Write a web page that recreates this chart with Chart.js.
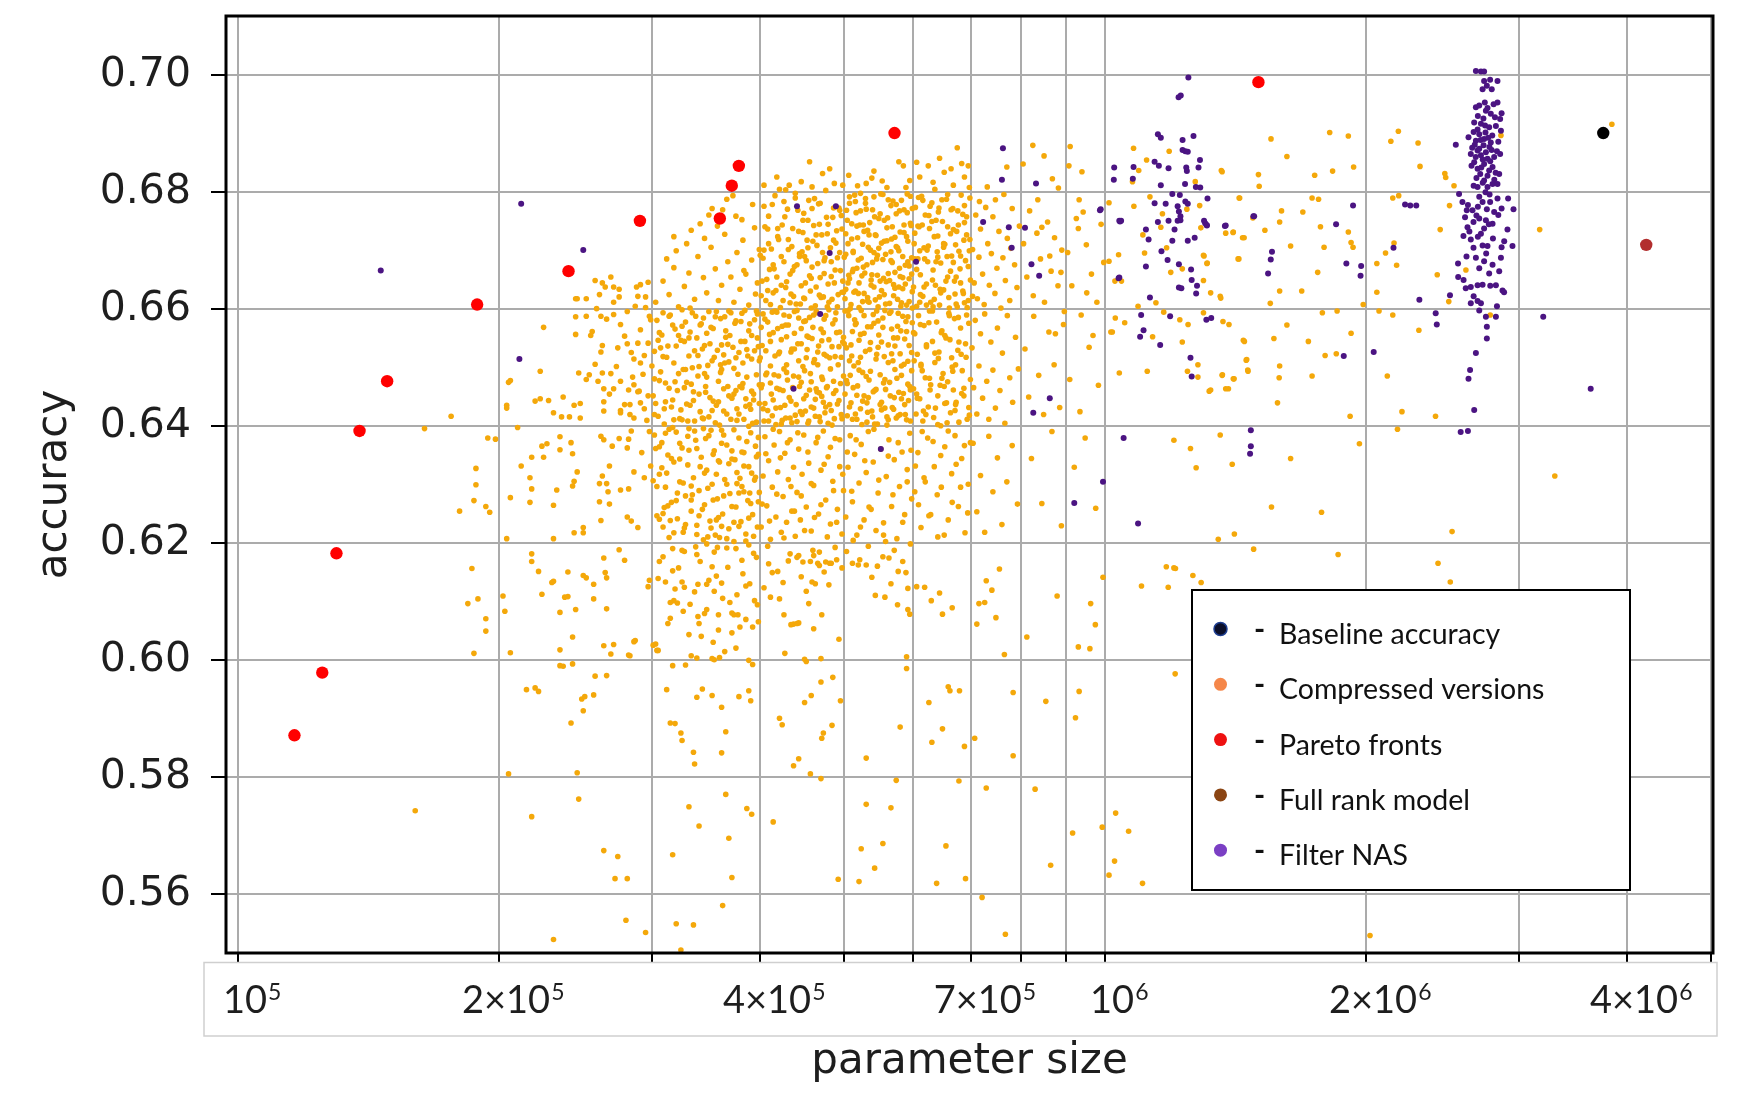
<!DOCTYPE html>
<html>
<head>
  <meta charset="utf-8" />
  <script src="https://cdn.jsdelivr.net/npm/chart.js@4.4.0/dist/chart.umd.min.js"></script>
  <style>
    body { margin:0; background:#fff; overflow:hidden; }
    #chart { display:block; }
  </style>
</head>
<body>
<canvas id="chart" width="1742" height="1105"></canvas>
<script>
// points are [parameters in thousands, accuracy x 10000]
const baselinePts = [[3753,6901]];
const fullRankPts = [[4207,6710]];
const paretoPts = [[116.1,5872],[125.0,5979],[129.8,6183],[138.0,6392],[148.5,6477],[188.6,6608],[240.4,6665],[290.6,6751],[359.3,6755],[370.9,6811],[377.9,6845],[571.4,6901],[1502,6988]];

const nasScattered = [[146,6666],[212,6780],[211,6515],[250,6701],[441,6776],[489,6776],[481,6696],[605,6681],[469,6592],[437,6464],[551,6361],[762,6875],[760,6821],[832,6815],[723,6749],[774,6740],[808,6739],[780,6705],[822,6677],[839,6657],[863,6448],[826,6423],[994,6305],[921,6269],[1091,6234],[986,6769],[1040,6750],[1036,6653],[1023,6821],[1076,6823],[1050,6380],[1097,6553],
  [3200,6587],[3630,6464],[2303,6616],[2040,6527],[1884,6520],[1931,6777],[1846,6745],[1973,6674],[1970,6657],[1897,6678],[2150,6705],[2217,6779],[2248,6777],[2284,6777],[1472,6393],[1469,6353],[1472,6366],[1482,6759],[1557,6698],[1552,6685],[1541,6661],[1374,6742],[1304,6747],[1310,6743]];
const nasClusterA = [[1247,6996],[1215,6962],[1222,6965],[1150,6899],[1159,6893],[1228,6889],[1264,6896],[1228,6872],[1237,6870],[1245,6869],[1286,6855],[1140,6852],[1153,6845],[1183,6841],[1240,6842],[1242,6836],[1281,6842],[1024,6842],[1078,6843],[1159,6812],[1236,6814],[1272,6809],[1287,6808],[1195,6797],[1219,6795],[1312,6789],[1140,6781],[1174,6780],[1212,6776],[1237,6784],[1245,6780],[1216,6767],[1221,6759],[1038,6751],[1043,6751],[1150,6749],[1183,6751],[1212,6751],[1221,6752],[1300,6751],[1309,6744],[1377,6743],[1202,6736],[1114,6736],[1122,6719],[1245,6717],[1268,6722],[1195,6717],[1161,6699],[1180,6684],[1114,6673],[1216,6677],[1256,6668],[1258,6650],[1276,6640],[1216,6637],[1224,6636],[1273,6627],[1126,6620],[1038,6654],[1188,6588],[1100,6590],[1308,6582],[1325,6585],[1107,6564],[1157,6539],[1254,6517],[1258,6485],[988,6771],[1485,6759]];
const nasClusterB = [[2676,7007],[2712,7006],[2735,7006],[2735,6990],[2779,6992],[2834,6990],[2755,6982],[2724,6976],[2791,6976],[2740,6953],[2834,6953],[2676,6945],[2748,6939],[2784,6934],[2865,6935],[2854,6925],[2664,6919],[2712,6917],[2742,6914],[2688,6907],[2772,6911],[2822,6913],[2860,6905],[2700,6899],[2624,6894],[2676,6888],[2735,6891],[2784,6885],[2668,6881],[2731,6880],[2774,6877],[2688,6871],[2748,6868],[2640,6865],[2712,6863],[2760,6857],[2809,6860],[2854,6865],[2664,6851],[2735,6848],[2797,6843],[2688,6840],[2772,6837],[2847,6831],[2707,6831],[2735,6820],[2797,6814],[2834,6814],[2688,6809],[2760,6809],[2537,6881],[2559,6797],[2582,6783],[2612,6769],[2652,6769],[2724,6783],[2779,6783],[2834,6789],[2915,6789],[2957,6771],[2865,6772],[2809,6766],[2659,6749],[2700,6755],[2748,6752],[2735,6738],[2797,6746],[2617,6740],[2589,6725],[2640,6719],[2712,6729],[2910,6736],[2724,6709],[2760,6708],[2865,6706],[2949,6708],[2659,6705],[2676,6688],[2735,6682],[2797,6676],[2847,6665],[2772,6661],[2552,6678],[2553,6655],[2822,6641],[2872,6632],[2884,6629],[2605,6636],[2640,6638],[2688,6641],[2724,6642],[2688,6614],[2640,6610],[2712,6610],[2822,6587],[2748,6587],[2405,6593],[2412,6574],[2498,6624],[2755,6570],[2755,6550],[2676,6525],[2635,6496],[2624,6481],[2664,6428],[2570,6390],[2620,6392],
  [2700,6948],[2760,6944],[2805,6950],[2690,6930],[2730,6926],[2815,6928],[2660,6903],[2745,6902],[2795,6897],[2710,6889],[2765,6893],[2840,6886],[2650,6876],[2700,6874],[2790,6872],[2830,6870],[2675,6860],[2725,6856],[2780,6853],[2645,6845],[2715,6842],[2760,6828],[2820,6833],[2680,6824],[2725,6816],[2810,6821],[2660,6811],[2745,6800],[2775,6796],[2700,6792],[2620,6778],[2690,6775],[2755,6771],[2840,6761],[2680,6760],[2600,6757],[2770,6745],[2630,6733],[2690,6724],[2800,6721],[2885,6716],[2750,6695],[2610,6690],[2700,6670],[2860,6688],[2590,6650],[2780,6640],[2660,6622],[2830,6605],[2700,6598]];

const cmpLow = [[160,5743],[164,6396],[176,6417],[194,6380],[198,6378],[188,6328],[188,6300],[187,6273],[180,6255],[193,6263],[195,6253],[186,6157],[184,6097],[189,6105],[193,6071],[193,6050],[187,6012]];
const cmp200 = [[258,6649],[263,6645],[269,6655],[265,6638],[271,6638],[275,6634],[245,6618],[246,6618],[261,6625],[275,6621],[291,6642],[297,6646],[289,6622],[295,6621],
  [245,6587],[252,6588],[262,6588],[271,6591],[225,6569],[245,6557],[255,6555],[263,6538],[274,6534],[279,6554],[289,6542],[297,6542],[258,6506],[286,6515],[291,6508],[223,6494],[247,6491],[254,6488],[263,6491],[269,6490],[205,6475],[206,6478],[252,6480],[260,6477],[276,6477],[264,6464],[271,6464],[282,6462],[289,6459],[220,6443],[223,6447],[228,6444],[237,6450],[264,6442],[276,6427],[283,6437],[291,6440],[294,6430],[204,6431],[204,6436],[231,6423],[236,6416],[241,6416],[244,6436],[248,6439],[248,6414],[264,6426],[276,6423],[286,6414],[283,6420],
  [210,6398],[224,6366],[227,6370],[235,6382],[235,6360],[242,6372],[243,6353],[218,6347],[212,6332],[225,6347],[217,6312],[218,6293],[206,6278],[233,6291],[231,6265],[244,6306],[243,6298],[246,6322],[262,6383],[264,6377],[270,6366],[275,6379],[282,6378],[281,6363],[268,6332],[263,6315],[261,6302],[266,6302],[267,6288],[276,6291],[282,6293],[261,6271],[268,6267],[262,6239],[281,6245],[284,6238],[289,6227],[286,6322],[294,6312],[244,6218],[250,6227],[250,6218],[231,6208],[204,6208],[217,6270],
  [218,6182],[218,6169],[222,6152],[230,6133],[231,6135],[240,6151],[250,6145],[252,6141],[257,6130],[264,6175],[275,6189],[279,6171],[265,6150],[266,6141],[238,6108],[240,6109],[224,6113],[257,6105],[266,6088],[245,6087],[235,6082],[203,6084],[202,6110],[243,6040],[235,6018],[206,6013],[264,6025],[271,6027],[269,6011],[283,6008],[287,6034],[298,6137],[297,6126],[235,5991],[237,5990],[243,5994],[258,5973],[266,5974],[215,5950],[220,5953],[222,5947],[257,5941],[249,5934],[250,5914],[242,5893],[205,5806],[246,5808],[247,5763],[218,5733],[264,5675],[274,5665],[272,5627],[281,5627],[280,5556],[295,5535],[231,5523],[286,6032],[282,6009],[251,5938],
  [252,6618],[256,6562],[259,6601],[262,6527],[266,6583],[268,6455],[271,6612],[273,6502],[276,6574],[279,6437],[281,6596],[284,6526],[286,6471],[288,6638],[291,6565],[293,6489],[295,6603],[297,6452],[299,6582],[298,6391],
  [281,6541],[284,6392],[287,6605],[290,6460],[292,6355],[294,6521],[296,6410],[298,6588],[299,6332],[285,6484]];
const cmp300 = [[331,5750],[365,5771],[386,5747],[391,5737],[340,5717],[368,5696],[317,5668],[371,5629],[362,5581],[320,5550],[335,5548],[324,5505],
  [315,5893],[319,5892],[324,5876],[325,5863],[335,5843],[336,5823],[361,5842],[365,5878],[312,5950],[338,5937],[343,5951],[352,5940],[361,5920],[378,5938],[388,5948],[390,5931],[317,5991],[328,5992],[392,5993],[338,6004],[354,6001],[301,6026],[304,6017],
  [311,6134],[319,6122],[325,6134],[339,6130],[347,6130],[356,6144],[354,6118],[369,6099],[373,6078],[385,6127],[394,6102],[398,6066],[392,6057],[318,6102],[315,6099],[326,6084],[332,6096],[339,6075],[340,6063],[347,6087],[358,6078],[371,6081],[377,6078],[315,6072],[303,6028],[305,6017],[342,6041],[352,6003],[358,6052],[375,6021],[388,6000],[359,6005],
  [317,6191],[325,6188],[337,6194],[347,6199],[354,6185],[375,6191],[388,6197],
  [305,6140],[309,6177],[313,6063],[317,6153],[321,6098],[327,6186],[331,6044],[336,6117],[341,6169],[345,6080],[349,6137],[353,6031],[357,6193],[362,6106],[367,6159],[371,6047],[376,6112],[381,6171],[385,6070],[389,6131],[393,6183],[397,6095],[333,6008],[364,6015],[379,6057],
  [306,6169],[322,6158],[338,6181],[352,6160],[366,6192],[382,6148],[396,6176],[327,6125],[361,6132],
  [302,6385],[304,6247],[306,6318],[308,6372],[309,6228],[311,6296],[313,6351],[314,6210],[316,6270],[318,6339],[320,6390],[321,6242],[323,6305],[325,6363],[326,6219],[328,6281],[330,6334],[331,6396],[333,6255],[335,6312],[337,6376],[338,6231],[340,6290],[342,6347],[344,6206],[345,6266],[347,6325],[349,6384],[350,6238],[352,6301],[354,6358],[355,6214],[357,6276],[359,6339],[361,6393],[362,6250],[364,6309],[366,6368],[368,6225],[369,6285],[371,6344],[373,6203],[375,6262],[376,6321],[378,6380],[380,6237],[381,6297],[383,6355],[385,6216],[387,6273],[388,6331],[390,6389],[392,6249],[394,6308],[395,6366],[397,6228],[399,6287],[310,6261],[334,6283],[356,6240],[379,6311],[398,6352],
  [301,6307],[303,6362],[306,6241],[308,6329],[311,6388],[313,6264],[316,6345],[318,6218],[321,6286],[323,6371],[326,6303],[328,6232],[331,6359],[333,6274],[336,6392],[338,6215],[341,6331],[343,6258],[346,6379],[348,6294],[351,6226],[353,6352],[356,6318],[358,6244],[361,6371],[363,6281],[366,6208],[368,6336],[371,6263],[373,6394],[376,6302],[378,6229],[381,6356],[383,6288],[386,6374],[388,6243],[391,6320],[393,6212],[396,6348],[398,6271],[314,6395],[344,6396],[359,6210],[374,6343],[389,6286],
  [301,6452],[302,6528],[304,6581],[305,6417],[307,6493],[308,6556],[310,6404],[311,6474],[313,6537],[315,6590],[316,6433],[318,6508],[319,6566],[321,6461],[323,6413],[324,6547],[326,6497],[328,6578],[329,6438],[331,6520],[333,6472],[334,6594],[336,6409],[338,6551],[339,6486],[341,6425],[343,6532],[344,6585],[346,6458],[348,6504],[349,6416],[351,6569],[353,6443],[354,6518],[356,6596],[358,6477],[359,6402],[361,6539],[363,6464],[364,6587],[366,6421],[368,6510],[369,6555],[371,6448],[373,6499],[374,6576],[376,6430],[378,6526],[379,6468],[381,6593],[383,6412],[384,6545],[386,6484],[388,6563],[389,6437],[391,6515],[393,6455],[394,6582],[396,6407],[398,6536],[399,6471],[302,6481],[309,6519],[317,6445],[325,6571],[332,6436],[340,6502],[347,6559],[352,6427],[360,6492],[367,6540],[375,6461],[382,6508],[390,6429],[397,6551],[306,6560],[327,6466],[345,6490],[363,6522],[385,6447],
  [300,6503],[303,6439],[305,6547],[306,6478],[309,6594],[310,6430],[312,6518],[314,6465],[317,6573],[318,6411],[320,6537],[322,6490],[324,6428],[325,6599],[327,6545],[329,6475],[330,6409],[332,6561],[334,6500],[335,6444],[337,6588],[339,6521],[340,6455],[342,6575],[344,6413],[345,6538],[347,6484],[349,6596],[350,6449],[352,6512],[353,6567],[355,6406],[357,6530],[358,6442],[360,6584],[361,6497],[363,6426],[365,6552],[367,6468],[368,6597],[370,6412],[372,6535],[373,6455],[375,6580],[377,6489],[378,6421],[380,6545],[382,6473],[384,6598],[385,6434],[387,6520],[389,6575],[391,6460],[392,6405],[394,6529],[396,6488],[397,6592],[399,6439],[331,6551],[364,6508],
  [302,6420],[304,6297],[306,6365],[307,6534],[309,6251],[311,6442],[312,6320],[314,6588],[315,6239],[317,6398],[319,6476],[320,6273],[322,6555],[323,6344],[325,6411],[327,6226],[328,6497],[330,6383],[332,6602],[333,6298],[335,6459],[336,6529],[338,6362],[340,6247],[341,6573],[343,6414],[345,6320],[346,6468],[348,6211],[350,6541],[351,6393],[353,6274],[355,6587],[356,6436],[358,6341],[360,6505],[361,6229],[363,6385],[365,6563],[366,6301],[368,6452],[370,6594],[371,6358],[373,6236],[375,6517],[376,6410],[378,6286],[380,6579],[381,6466],[383,6332],[385,6204],[386,6531],[388,6400],[390,6268],[391,6555],[393,6445],[395,6313],[396,6597],[398,6381],[399,6512],
  [303,6612],[309,6648],[314,6625],[318,6671],[322,6604],[327,6639],[331,6662],[336,6617],[339,6690],[344,6654],[347,6628],[351,6706],[355,6669],[358,6615],[361,6641],[364,6728],[367,6681],[370,6655],[373,6612],[376,6697],[379,6634],[382,6718],[385,6660],[388,6607],[391,6684],[394,6739],[397,6645],[399,6702],[345,6721],[333,6735],[312,6686],[320,6700],[357,6742],[383,6666],[395,6626],[352,6772],[366,6788],[372,6794],[375,6759],[341,6746],
  [318,6724],[329,6712],[349,6761],[362,6770],[381,6753],[392,6779]];
const cmp400 = [[414,5724],[421,6105],[437,6062],[443,6064],[427,6012],[452,5998],[470,6003],[470,5963],[485,5971],[458,5940],[450,5928],[495,5931],[421,5901],[424,5890],[484,5889],[473,5876],[471,5867],[443,5832],[437,5820],[457,5806],[470,5798],[492,5626],[459,6134],[463,6131],[409,6165],[413,6150],[411,6108],[425,6133],[426,6078],[434,6061],[441,6063],[471,6078],[466,6166],[481,6166],[490,6172],[455,6097],[461,6054],[450,6002],[493,6036],
  [433,6182],[441,6176],[448,6168],[457,6169],[461,6179],[468,6162],[476,6168],[483,6166],[468,6185],[443,6179],
  [408,6195],[419,6152],[431,6170],[446,6143],[460,6188],[474,6151],[488,6193],[497,6158],[404,6124],[452,6118],[480,6129],
  [401,6228],[403,6315],[405,6382],[407,6264],[409,6341],[411,6207],[413,6296],[415,6368],[417,6245],[419,6322],[421,6391],[423,6219],[425,6280],[427,6354],[429,6236],[431,6309],[433,6377],[435,6255],[437,6330],[439,6212],[441,6287],[443,6361],[445,6240],[447,6318],[449,6385],[452,6262],[455,6337],[458,6221],[461,6299],[464,6372],[467,6250],[470,6325],[473,6392],[476,6274],[479,6348],[482,6233],[485,6306],[488,6379],[491,6258],[494,6331],[497,6216],[499,6290],
  [402,6267],[406,6353],[410,6238],[414,6395],[418,6284],[422,6346],[426,6209],[430,6372],[434,6297],[438,6255],[442,6389],[446,6281],[450,6222],[454,6356],[458,6302],[462,6244],[466,6381],[470,6266],[474,6335],[478,6211],[482,6364],[486,6290],[490,6236],[494,6377],[498,6318],
  [401,6466],[402,6538],[404,6409],[405,6583],[407,6491],[408,6427],[410,6557],[411,6474],[413,6595],[414,6445],[416,6520],[417,6403],[419,6567],[420,6486],[422,6432],[423,6548],[425,6461],[426,6590],[428,6414],[429,6505],[431,6573],[432,6449],[434,6527],[435,6406],[437,6486],[438,6559],[440,6437],[441,6598],[443,6512],[444,6468],[446,6541],[447,6420],[449,6579],[450,6495],[452,6453],[453,6531],[455,6409],[456,6586],[458,6476],[459,6550],[461,6431],[462,6514],[464,6597],[465,6459],[467,6537],[468,6416],[470,6566],[471,6484],[473,6441],[474,6523],[476,6589],[477,6466],[479,6405],[480,6548],[482,6498],[483,6427],[485,6575],[486,6456],[488,6519],[489,6594],[491,6438],[492,6505],[494,6561],[495,6473],[497,6413],[498,6544],[499,6486],[464,6464],
  [400,6517],[402,6471],[403,6592],[405,6439],[406,6529],[408,6578],[409,6409],[411,6503],[412,6455],[414,6560],[415,6488],[417,6431],[418,6595],[420,6524],[421,6463],[423,6404],[424,6571],[426,6498],[427,6436],[429,6553],[430,6479],[432,6588],[433,6414],[435,6532],[436,6466],[438,6596],[439,6419],[442,6541],[443,6484],[445,6425],[446,6567],[448,6502],[449,6447],[451,6580],[452,6517],[454,6405],[455,6552],[457,6490],[458,6433],[460,6569],[461,6509],[463,6446],[465,6594],[466,6527],[468,6457],[469,6408],[471,6546],[472,6480],[474,6583],[475,6423],[477,6520],[478,6468],[480,6599],[481,6437],[484,6536],[486,6477],[487,6413],[490,6560],[493,6444],[496,6518],
  [401,6569],[403,6430],[404,6701],[406,6488],[408,6632],[409,6759],[411,6545],[413,6418],[414,6676],[416,6597],[418,6465],[419,6738],[421,6527],[423,6641],[424,6410],[426,6784],[428,6573],[429,6492],[431,6719],[433,6611],[434,6443],[436,6666],[438,6532],[439,6798],[441,6408],[443,6585],[444,6690],[446,6475],[448,6752],[449,6619],[451,6426],[453,6554],[454,6705],[456,6462],[458,6653],[459,6772],[461,6590],[463,6417],[464,6727],[466,6505],[468,6624],[469,6781],[471,6451],[473,6560],[474,6683],[476,6433],[478,6604],[479,6745],[481,6517],[483,6656],[484,6402],[486,6718],[488,6582],[489,6461],[491,6688],[493,6536],[494,6769],[496,6420],[497,6629],[499,6552],
  [401,6623],[403,6687],[405,6741],[407,6651],[409,6712],[411,6608],[413,6779],[415,6669],[417,6632],[419,6724],[421,6805],[423,6690],[425,6615],[427,6758],[429,6647],[431,6702],[432,6812],[434,6626],[436,6738],[438,6673],[440,6609],[442,6769],[444,6695],[446,6640],[448,6731],[450,6618],[452,6683],[454,6752],[456,6657],[458,6602],[460,6716],[462,6789],[464,6638],[466,6678],[468,6745],[470,6620],[472,6697],[474,6661],[476,6803],[478,6729],[480,6612],[481,6840],[483,6681],[485,6757],[487,6645],[489,6713],[491,6604],[493,6773],[495,6666],[497,6737],[498,6812],[499,6629],
  [400,6692],[402,6648],[404,6776],[406,6615],[408,6737],[410,6668],[412,6703],[414,6628],[416,6794],[418,6655],[420,6719],[422,6603],[424,6744],[426,6681],[428,6637],[430,6771],[433,6660],[435,6707],[437,6622],[439,6790],[441,6676],[443,6733],[445,6609],[447,6698],[449,6764],[451,6645],[453,6718],[455,6786],[457,6631],[459,6672],[461,6743],[463,6606],[465,6709],[467,6780],[469,6654],[471,6727],[473,6621],[475,6688],[477,6757],[479,6643],[482,6705],[484,6617],[486,6773],[488,6667],[490,6734],[492,6625],[494,6697],[496,6760],[498,6648],[450,6690],
  [404,6812],[418,6826],[428,6804],[446,6818],[459,6809],[472,6832],[487,6815],[456,6852]];
const cmp500 = [[530,5833],[530,5754],[566,5748],[523,5678],[554,5687],[542,5645],[574,5795],[577,6152],[592,6123],[592,6087],[595,6079],[590,6006],[590,5986],[580,5886],[543,6111],[557,6108],[576,6095],[511,6166],[519,6163],[530,6163],[554,6177],[563,6175],[520,5622],
  [530,6815],[538,6824],[560,6808],[585,6845],[595,6820],[506,6829],[518,6811],[541,6836],[553,6819],[578,6852],[589,6808],
  [503,6186],[512,6205],[521,6172],[533,6195],[546,6161],[558,6203],[571,6188],[584,6169],[596,6199],[538,6142],[566,6131],[589,6150],
  [502,6245],[505,6330],[508,6384],[511,6271],[514,6352],[517,6214],[520,6303],[523,6369],[527,6240],[530,6321],[533,6391],[537,6258],[540,6339],[544,6222],[547,6286],[551,6361],[555,6235],[559,6314],[563,6377],[567,6263],[571,6343],[575,6208],[579,6297],[583,6356],[587,6249],[591,6326],[595,6388],[598,6276],
  [504,6356],[510,6289],[516,6377],[522,6228],[528,6341],[534,6262],[541,6395],[548,6308],[555,6214],[562,6349],[569,6283],[577,6372],[584,6236],[591,6305],[597,6359],
  [501,6455],[503,6534],[504,6418],[506,6589],[508,6487],[509,6440],[511,6562],[513,6503],[515,6421],[516,6576],[518,6469],[520,6547],[522,6430],[523,6598],[525,6492],[527,6452],[529,6528],[531,6407],[532,6570],[534,6479],[536,6543],[538,6426],[540,6591],[542,6461],[544,6515],[546,6404],[548,6556],[550,6488],[552,6441],[554,6585],[556,6519],[558,6463],[560,6402],[562,6539],[564,6475],[566,6596],[568,6432],[570,6551],[572,6497],[574,6414],[576,6571],[578,6458],[580,6524],[582,6447],[584,6588],[586,6506],[588,6420],[590,6562],[592,6472],[594,6538],[596,6409],[598,6495],[599,6577],[507,6512],[519,6509],[533,6449],[545,6597],[557,6431],[569,6512],[581,6563],[593,6444],
  [500,6541],[503,6478],[505,6597],[507,6433],[510,6520],[512,6466],[515,6574],[517,6412],[520,6496],[522,6557],[525,6443],[527,6589],[530,6485],[532,6424],[535,6531],[537,6570],[540,6459],[542,6404],[545,6523],[547,6580],[550,6437],[552,6544],[555,6474],[557,6598],[560,6416],[562,6509],[565,6452],[567,6566],[570,6429],[572,6537],[575,6482],[577,6593],[580,6420],[582,6503],[585,6456],[587,6549],[590,6411],[592,6587],[595,6468],[598,6526],
  [501,6597],[502,6729],[504,6473],[506,6658],[507,6792],[509,6539],[511,6412],[512,6699],[514,6582],[516,6765],[517,6453],[519,6627],[521,6744],[522,6518],[524,6403],[526,6672],[527,6559],[529,6781],[531,6440],[532,6614],[534,6727],[536,6494],[537,6650],[539,6416],[541,6576],[542,6758],[544,6463],[546,6692],[547,6535],[549,6621],[551,6797],[552,6428],[554,6569],[556,6716],[557,6480],[559,6647],[561,6756],[562,6411],[564,6593],[566,6683],[567,6524],[569,6785],[571,6449],[572,6636],[574,6707],[576,6551],[577,6418],[579,6768],[581,6605],[582,6487],[584,6654],[586,6731],[587,6437],[589,6579],[591,6797],[592,6511],[594,6674],[596,6462],[597,6743],[599,6602],
  [501,6618],[502,6694],[504,6752],[505,6645],[507,6781],[509,6608],[510,6720],[512,6668],[514,6795],[515,6631],[517,6742],[519,6684],[520,6603],[522,6768],[524,6657],[525,6711],[527,6627],[529,6789],[531,6676],[532,6735],[534,6612],[536,6701],[538,6659],[539,6770],[541,6638],[543,6727],[545,6686],[547,6604],[548,6755],[550,6648],[552,6713],[554,6796],[556,6625],[558,6694],[560,6739],[562,6661],[564,6610],[566,6777],[568,6680],[570,6642],[572,6723],[574,6763],[576,6617],[578,6700],[580,6656],[582,6786],[584,6635],[586,6744],[588,6675],[590,6607],[592,6716],[594,6652],[596,6793],[598,6688],[599,6630],[511,6664],[526,6744],[541,6697],[555,6653],[567,6720],[579,6670],[591,6765],
  [500,6689],[502,6634],[503,6769],[505,6712],[507,6652],[508,6601],[510,6746],[512,6697],[513,6629],[515,6784],[517,6670],[518,6722],[520,6645],[522,6798],[523,6687],[525,6613],[527,6733],[528,6662],[530,6771],[532,6620],[533,6706],[535,6748],[537,6641],[539,6680],[541,6792],[543,6616],[544,6726],[546,6658],[548,6704],[550,6763],[552,6632],[554,6685],[556,6752],[558,6609],[560,6717],[562,6787],[564,6649],[566,6698],[568,6741],[570,6623],[572,6663],[574,6779],[576,6705],[578,6638],[580,6732],[582,6611],[584,6690],[586,6770],[588,6643],[590,6724],[592,6681],[594,6613],[596,6747],[598,6660],[599,6772]];
const cmp600 = [[606,6851],[625,6845],[644,6858],[664,6840],[675,6876],[636,6805],[688,6826],[695,6845],
  [611,6826],[633,6817],[652,6834],[668,6812],[683,6849],[697,6808],
  [606,6126],[619,6125],[630,6102],[644,6115],[649,6079],[666,6090],[649,5883],[631,5860],[626,5928],[659,5955],[662,5948],[679,5948],[688,5853],[678,5794],[639,5619],[690,5627],[655,5683],
  [603,6288],[608,6355],[613,6227],[618,6312],[624,6380],[629,6249],[635,6331],[641,6211],[647,6296],[653,6365],[659,6240],[665,6319],[671,6384],[677,6263],[683,6345],[689,6218],[695,6301],[699,6372],
  [604,6332],[609,6266],[615,6391],[620,6305],[626,6247],[633,6374],[640,6283],[646,6350],[652,6214],[659,6392],[666,6270],[673,6335],[681,6296],[688,6367],[694,6252],
  [601,6464],[603,6558],[605,6421],[607,6523],[609,6589],[611,6447],[613,6506],[616,6409],[618,6572],[620,6483],[622,6536],[625,6433],[627,6597],[629,6471],[632,6545],[634,6415],[636,6509],[639,6578],[641,6452],[643,6527],[646,6401],[648,6563],[650,6490],[653,6439],[655,6551],[658,6476],[660,6593],[663,6423],[665,6517],[668,6462],[670,6584],[673,6441],[676,6530],[678,6407],[681,6568],[684,6495],[687,6452],[690,6541],[693,6412],[696,6576],[699,6480],[615,6495],[645,6470],[672,6505],
  [602,6512],[607,6448],[612,6574],[617,6426],[622,6539],[627,6482],[632,6597],[637,6431],[642,6516],[647,6560],[652,6468],[657,6406],[662,6548],[667,6494],[672,6437],[677,6586],[682,6523],[687,6465],[692,6590],[697,6419],
  [601,6560],[603,6686],[606,6455],[608,6742],[611,6612],[613,6503],[616,6786],[618,6638],[621,6420],[623,6701],[626,6577],[628,6462],[631,6750],[633,6604],[636,6525],[638,6681],[641,6403],[643,6773],[646,6628],[648,6482],[651,6706],[653,6555],[656,6440],[658,6796],[661,6589],[663,6665],[666,6501],[668,6736],[671,6427],[673,6609],[676,6768],[678,6544],[681,6691],[683,6456],[686,6627],[688,6748],[691,6518],[693,6603],[696,6432],[698,6719],
  [601,6638],[602,6712],[604,6774],[606,6605],[608,6686],[610,6741],[612,6659],[614,6793],[616,6622],[618,6705],[620,6761],[622,6643],[624,6681],[627,6738],[629,6612],[631,6782],[633,6667],[635,6724],[637,6641],[640,6698],[642,6766],[644,6607],[646,6679],[649,6750],[651,6633],[653,6711],[656,6788],[658,6655],[660,6620],[663,6729],[665,6691],[667,6772],[670,6648],[672,6710],[675,6604],[677,6744],[680,6669],[682,6795],[685,6631],[687,6718],[690,6683],[692,6758],[695,6615],[697,6700],[699,6650],[611,6700],[626,6760],[641,6725],[657,6690],[673,6655],[688,6777],
  [603,6730],[606,6668],[609,6791],[612,6625],[615,6744],[619,6686],[622,6607],[625,6708],[628,6776],[632,6650],[635,6617],[638,6752],[641,6689],[645,6634],[648,6787],[651,6712],[655,6648],[658,6741],[661,6602],[664,6770],[668,6680],[671,6626],[674,6733],[678,6699],[681,6645],[685,6762],[688,6611],[692,6727],[695,6673],[698,6790]];
const cmp700 = [[731,6809],[764,6796],[770,6843],[836,6787],[869,6823],[883,6807],[911,6878],[908,6845],[940,6835],[933,6787],[943,6766],[931,6738],[845,6740],[863,6691],[889,6663],[952,6628],[897,6596],[876,6558],[968,6555],
  [703,6702],[706,6645],[709,6761],[712,6618],[715,6689],[718,6737],[722,6660],[725,6608],[728,6774],[732,6712],[735,6641],[739,6695],[742,6758],[746,6627],[750,6670],[754,6733],[758,6602],[762,6688],[767,6649],[771,6721],[776,6615],[781,6772],[786,6676],[791,6637],[796,6742],[703,6622],[747,6787],[778,6704],[716,6784],
  [702,6534],[705,6466],[708,6581],[711,6421],[715,6503],[718,6558],[722,6448],[726,6592],[730,6477],[734,6412],[738,6544],[742,6496],[747,6431],[751,6568],[756,6461],[761,6525],[766,6405],[771,6589],[776,6483],[782,6441],[788,6552],[794,6498],
  [704,6371],[711,6254],[718,6316],[726,6219],[734,6383],[742,6288],[751,6346],[760,6232],[770,6305],[781,6367],[792,6267],
  [711,6062],[715,6097],[726,6099],[748,6073],[729,6136],[755,6156],[783,5945],[783,5837],[707,5867],[729,5782],[721,5595],[767,5532],[740,6120],[765,6010],
  [805,6712],[812,6655],[818,6768],[826,6623],[834,6730],[842,6686],[851,6612],[858,6749],[866,6665],[874,6722],[882,6640],[891,6701],[804,6848],[850,6862],[825,6880],
  [808,6532],[816,6450],[827,6588],[838,6487],[849,6420],[861,6561],[873,6505],[886,6432],[895,6574],[822,6345],[845,6268],[868,6391],[890,6230],
  [865,5650],[812,6040],[854,5930],[830,5780],[880,6110],
  [917,5705],[992,5715],[933,5947],[924,5902],[931,6023],[960,6020],[962,6097],[974,6061],[994,6142],
  [905,6697],[915,6640],[926,6755],[938,6590],[951,6710],[964,6660],[978,6612],[989,6745],[996,6680],[910,6480],[935,6425],[958,6535],[982,6470],[921,6330],[948,6380],[975,6260]];
const cmp1M = [[1078,6875],[1185,6870],[1116,6855],[1093,6837],[1075,6818],[1270,6818],[1361,6837],[1502,6830],[1505,6810],[1010,6782],[1079,6776],[1126,6792],[1164,6763],[1285,6777],[1427,6790],[1242,6771],[1159,6740],[1105,6727],[1289,6739],[1377,6730],[1404,6731],[1446,6722],[1036,6693],[1110,6696],[1177,6705],[1300,6691],[1311,6679],[1423,6686],[1010,6682],[1026,6648],[1044,6648],[1190,6663],[1227,6669],[1298,6649],[1323,6628],[1359,6619],[1144,6611],[1091,6605],[1027,6585],[1053,6577],[1168,6595],[1219,6582],[1246,6574],[1298,6594],[1367,6579],[1389,6574],[1019,6561],[1134,6553],[1227,6544],[1443,6547],[1456,6514],[1279,6505],[1244,6494],[1279,6484],[1038,6491],[1118,6494],[1365,6488],[1408,6481],[1460,6496],[1323,6462],[1387,6464],[1015,6561],
  [1553,6891],[1620,6861],[1815,6902],[1907,6896],[1364,6835],[1744,6829],[1829,6836],[1934,6843],[1429,6790],[1732,6790],[1762,6788],[1480,6756],[1589,6749],[1597,6768],[1690,6766],[1528,6735],[1771,6741],[1907,6732],[1405,6732],[1440,6722],[1636,6708],[1788,6706],[1921,6714],[1931,6706],[1298,6692],[1310,6678],[1426,6686],[1589,6631],[1685,6631],[1758,6663],[1984,6608],[1550,6610],[1357,6622],[1780,6594],[1851,6597],[1565,6550],[1620,6573],[1715,6545],[1793,6521],[1847,6524],[1921,6559],[1447,6545],[1454,6513],[1461,6494],[1589,6503],[1587,6483],[1732,6486],[1364,6487],[1405,6481],[1377,6464],[1318,6460],[1580,6440],[1916,6417],[1964,6370],[1636,6345],[1401,6335],[1273,6329],[1357,6385],[1254,6362],[1200,6376],[1555,6262],[1776,6253],[1350,6207],[1409,6216],[1483,6190],[1856,6181],
  [1101,6127],[1182,6125],[1176,6160],[1200,6158],[1204,5977],[1028,5739],[1064,5708],[1025,5657],[1010,5633],[1104,5619],[1205,6157],[1262,6145],[1290,6133]];
const cmp2M = [[2135,6887],[2178,6904],[2295,6884],[2307,6844],[2464,6832],[2470,6825],[2525,6811],[2146,6790],[2180,6794],[2105,6696],[2153,6713],[2057,6678],[2168,6675],[2434,6736],[2495,6777],[2415,6659],[2606,6667],[2057,6629],[2069,6597],[2146,6590],[2300,6564],[2115,6486],[2199,6425],[2404,6417],[2173,6395],[2512,6220],[2420,6166],[2500,6134],[2020,5530],[3300,6315],[3170,6736],[3840,6916],[2490,6613],[2860,6897],[2780,6590]];

const xGridVals = [1e5,2e5,3e5,4e5,5e5,6e5,7e5,8e5,9e5,1e6,2e6,3e6,4e6,5e6];
const xLabelVals = [1e5,2e5,4e5,7e5,1e6,2e6,4e6];
const xLabelMant = ['','2×','4×','7×','','2×','4×'];
const xLabelExp = ['5','5','5','5','6','6','6'];
const yTickVals = [0.56,0.58,0.60,0.62,0.64,0.66,0.68,0.70];

const legendLabels = ['Baseline accuracy','Compressed versions','Pareto fronts','Full rank model','Filter NAS'];
const legendColors = ['#0b0f2a','#F5874A','#EE1111','#8B4513','#7B3FC4'];

const toPts = arr => arr.map(p => ({ x: p[0] * 1000, y: p[1] / 10000 }));

const overlay = {
  id: 'overlay',
  afterDraw(chart) {
    const ctx = chart.ctx, a = chart.chartArea, xs = chart.scales.x;
    ctx.save();
    // frame
    ctx.strokeStyle = '#000'; ctx.lineWidth = 3;
    ctx.strokeRect(a.left, a.top, a.right - a.left, a.bottom - a.top);

    // pasted box round the x tick labels
    ctx.strokeStyle = '#cfcfcf'; ctx.lineWidth = 1.5;
    ctx.strokeRect(a.left - 22, a.bottom + 9.5, a.right - a.left + 26, 73.5);

    ctx.fillStyle = '#1e1e1e'; ctx.textAlign = 'left'; ctx.textBaseline = 'alphabetic';
    xLabelVals.forEach((v, i) => {
      const base = xLabelMant[i] + '10';
      ctx.font = '38px Lato'; const bw = ctx.measureText(base).width;
      ctx.font = '23px Lato'; const ew = ctx.measureText(xLabelExp[i]).width;
      const x0 = xs.getPixelForValue(v) + 14 - (bw + ew + 1) / 2;
      ctx.font = '38px Lato'; ctx.fillText(base, x0, a.bottom + 60);
      ctx.font = '23px Lato'; ctx.fillText(xLabelExp[i], x0 + bw + 1, a.bottom + 47);
    });

    // axis titles
    ctx.font = '42px "DejaVu Sans"'; ctx.textAlign = 'center';
    ctx.fillText('parameter size', (a.left + a.right) / 2, 1073);
    ctx.save();
    ctx.translate(66, (a.top + a.bottom) / 2);
    ctx.rotate(-Math.PI / 2);
    ctx.fillText('accuracy', 0, 0);
    ctx.restore();

    // legend box
    const lx = 1192, ly = 590, lw = 438, lh = 300;
    ctx.fillStyle = '#fff'; ctx.fillRect(lx, ly, lw, lh);
    ctx.strokeStyle = '#000'; ctx.lineWidth = 2; ctx.strokeRect(lx, ly, lw, lh);
    ctx.textAlign = 'left';
    legendLabels.forEach((lab, i) => {
      const yb = 644 + i * 55.3;
      ctx.beginPath(); ctx.arc(1220.5, yb - 15, 6.5, 0, Math.PI * 2);
      ctx.fillStyle = legendColors[i]; ctx.fill();
      if (i === 0) { ctx.strokeStyle = '#1d3d8f'; ctx.lineWidth = 1.5; ctx.stroke(); }
      ctx.fillStyle = '#111';
      ctx.font = 'bold 30px Lato'; ctx.fillText('-', 1254, yb - 4);
      ctx.font = '28.5px Lato'; ctx.fillText(lab, 1279, yb);
    });
    ctx.restore();
  }
};

const pointDs = (label, pts, color, r) => ({
  label, data: toPts(pts), backgroundColor: color, pointBackgroundColor: color,
  pointRadius: r, pointHoverRadius: r, pointBorderWidth: 0, borderWidth: 0, showLine: false
});

new Chart(document.getElementById('chart'), {
  type: 'scatter',
  data: {
    datasets: [
      pointDs('Baseline accuracy', baselinePts, '#000000', 6.2),
      pointDs('Full rank model', fullRankPts, '#B22E2E', 6.2),
      pointDs('Pareto fronts', paretoPts, '#FF0000', 6.2),
      pointDs('Filter NAS', [...nasScattered, ...nasClusterA, ...nasClusterB], '#4B1482', 3.0),
      pointDs('Compressed versions', [...cmpLow, ...cmp200, ...cmp300, ...cmp400, ...cmp500, ...cmp600, ...cmp700, ...cmp1M, ...cmp2M], '#F4A80A', 2.8)
    ]
  },
  options: {
    responsive: false,
    devicePixelRatio: 1,
    animation: false,
    layout: { padding: { left: 0, top: 16, right: 29, bottom: 0 } },
    plugins: { legend: { display: false }, tooltip: { enabled: false } },
    scales: {
      x: {
        type: 'logarithmic', min: 96800, max: 5023000,
        afterBuildTicks: s => { s.ticks = xGridVals.map(v => ({ value: v })); },
        afterFit: s => { s.height = 152; s.paddingLeft = 0; s.paddingRight = 0; },
        grid: { color: '#ababab', lineWidth: 2, tickColor: '#000', tickLength: 9, tickWidth: 2 },
        border: { display: false },
        ticks: { display: false }
      },
      y: {
        type: 'linear', min: 0.55, max: 0.7101,
        afterBuildTicks: s => { s.ticks = yTickVals.map(v => ({ value: v })); },
        afterFit: s => { s.width = 226; s.paddingTop = 0; s.paddingBottom = 0; },
        grid: { color: '#ababab', lineWidth: 2, tickColor: '#000', tickLength: 15, tickWidth: 2 },
        border: { display: false },
        ticks: { font: { family: 'DejaVu Sans', size: 41 }, color: '#1e1e1e', padding: 20, callback: v => Number(v).toFixed(2) }
      }
    }
  },
  plugins: [overlay]
});
</script>
</body>
</html>
